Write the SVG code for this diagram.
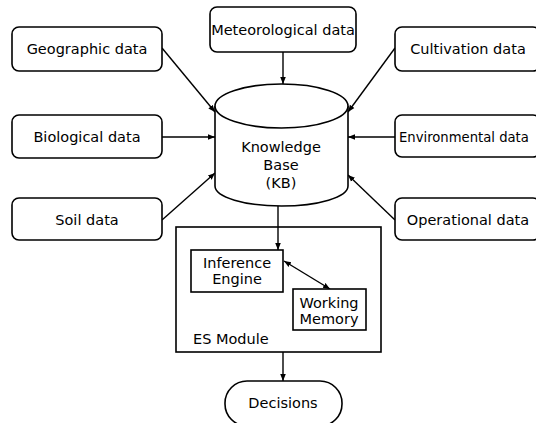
<svg xmlns="http://www.w3.org/2000/svg" width="536" height="423" viewBox="0 0 536 423">
<defs>
<marker id="ah" viewBox="0 0 10 10" refX="10" refY="5" markerWidth="7" markerHeight="7" markerUnits="userSpaceOnUse" orient="auto-start-reverse">
<path d="M0,1 L10,5 L0,9 z" fill="#000"/>
</marker>
</defs>
<style>
.box{fill:#fff;stroke:#000;stroke-width:1.6}
.t{font-family:"DejaVu Sans","Liberation Sans",sans-serif;font-size:14.5px;fill:#000;text-anchor:middle;dominant-baseline:central}
.c{stroke:#000;stroke-width:1.4;fill:none;marker-end:url(#ah)}
</style>
<rect width="536" height="423" fill="#fff"/>
<g id="connectors">
<line class="c" x1="162" y1="48" x2="215" y2="112"/>
<line class="c" x1="162" y1="137" x2="215" y2="137"/>
<line class="c" x1="162" y1="220" x2="215" y2="173"/>
<line class="c" x1="283" y1="52" x2="283" y2="84"/>
<line class="c" x1="395" y1="48" x2="348" y2="112"/>
<line class="c" x1="395" y1="137" x2="348" y2="137"/>
<line class="c" x1="395" y1="220" x2="348" y2="175"/>
<line class="c" x1="278" y1="206" x2="278" y2="250"/>
<line class="c" x1="284" y1="261" x2="330" y2="289" style="marker-start:url(#ah)"/>
<line class="c" x1="283" y1="352" x2="283" y2="381"/>
</g>
<g id="geographic"><rect class="box" x="12" y="27" width="150" height="44" rx="7"/><text class="t" x="87" y="49">Geographic data</text></g>
<g id="biological"><rect class="box" x="12" y="115" width="150" height="43" rx="7"/><text class="t" x="87" y="137">Biological data</text></g>
<g id="soil"><rect class="box" x="12" y="198" width="150" height="42" rx="7"/><text class="t" x="87" y="220">Soil data</text></g>
<g id="meteorological"><rect class="box" x="210" y="7" width="146" height="45" rx="7"/><text class="t" x="283" y="30">Meteorological data</text></g>
<g id="cultivation"><rect class="box" x="395" y="27" width="145" height="44" rx="7"/><text class="t" x="468" y="49">Cultivation data</text></g>
<g id="environmental"><rect class="box" x="395" y="115" width="145" height="42" rx="7"/><text class="t" x="399" y="137" style="text-anchor:start;font-size:13.2px">Environmental data</text></g>
<g id="operational"><rect class="box" x="395" y="198" width="145" height="42" rx="7"/><text class="t" x="468" y="220">Operational data</text></g>
<g id="kb">
<path class="box" d="M215,106 L215,186 A66.5,20 0 0 0 348,186 L348,106"/>
<ellipse class="box" cx="281.5" cy="106" rx="66.5" ry="22"/>
<text class="t" x="281" y="147">Knowledge</text>
<text class="t" x="281" y="165">Base</text>
<text class="t" x="281" y="183">(KB)</text>
</g>
<g id="es-module">
<rect class="box" x="176" y="227" width="205" height="125" style="fill:none"/>
<text class="t" x="193" y="339" style="text-anchor:start">ES Module</text>
</g>
<g id="inference"><rect class="box" x="191" y="250" width="92" height="42"/><text class="t" x="237" y="263">Inference</text><text class="t" x="237" y="279">Engine</text></g>
<g id="working"><rect class="box" x="293" y="289" width="73" height="41"/><text class="t" x="329" y="303">Working</text><text class="t" x="329" y="319">Memory</text></g>
<g id="decisions"><rect class="box" x="225" y="381" width="117" height="45" rx="22"/><text class="t" x="283" y="403">Decisions</text></g>
</svg>
